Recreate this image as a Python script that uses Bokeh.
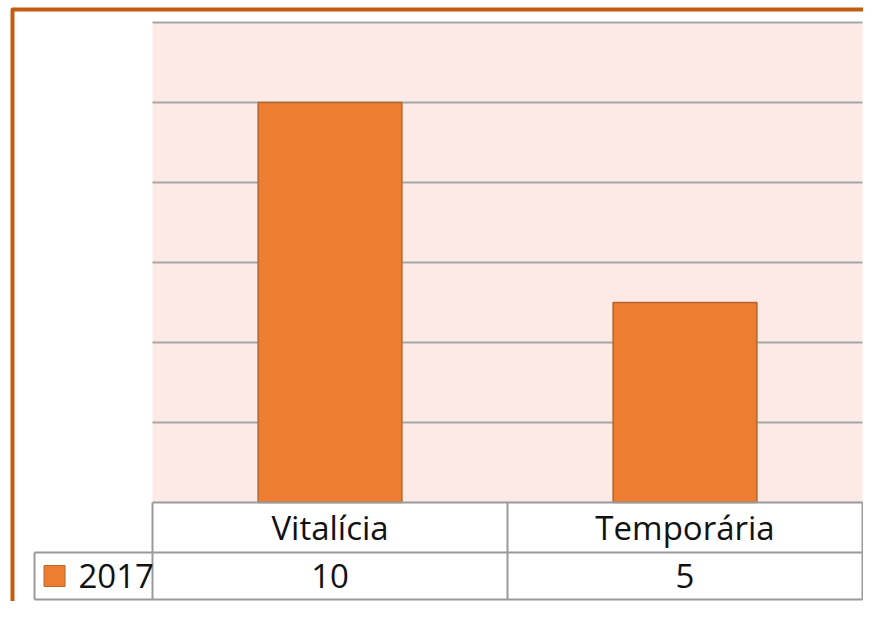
from bokeh.plotting import figure
from bokeh.models import Range1d
from bokeh.core.properties import value
from bokeh.embed import file_html
from bokeh.resources import INLINE

# ---- data ----
categories = ["Vitalícia", "Temporária"]
series_name = "2017"
values = [10, 5]
y_ticks = [2, 4, 6, 8, 10, 12]
y_max = 12

# ---- layout constants (data units) ----
W, H = 863, 601
x_pos = [i + 0.5 for i in range(len(categories))]
x_left, x_right = 0, len(categories)
row1_bottom = -1.25
row2_bottom = -2.425
legend_left = -0.3324

p = figure(width=W, height=H, output_backend="svg", toolbar_location=None,
           x_range=Range1d(-0.4282, 2.0028), y_range=Range1d(-2.475, 12.55),
           min_border=0, outline_line_color=None)
p.axis.visible = False
p.grid.visible = False
p.background_fill_color = "white"
p.border_fill_color = "white"

# plot area background
p.quad(left=[x_left], right=[x_right], bottom=[0], top=[y_max],
       fill_color="#FBEAE6", line_color=None)

# gridlines
p.segment(x0=[x_left] * len(y_ticks), x1=[x_right] * len(y_ticks),
          y0=y_ticks, y1=y_ticks, line_color="#A6A6A6", line_width=2)

# bars
p.vbar(x=x_pos, top=values, bottom=0, width=0.405,
       fill_color="#ED7D31", line_color="#B5652E", line_width=1.5)

# data table lines
grid_col = "#9A9A9A"
p.segment(x0=[x_left, legend_left, legend_left], x1=[x_right, x_right, x_right],
          y0=[0, row1_bottom, row2_bottom], y1=[0, row1_bottom, row2_bottom],
          line_color=grid_col, line_width=2)
vx = [x_left + i for i in range(len(categories) + 1)]
p.segment(x0=vx, x1=vx, y0=[0] * len(vx), y1=[row2_bottom] * len(vx),
          line_color=grid_col, line_width=2)
p.segment(x0=[legend_left], x1=[legend_left], y0=[row1_bottom], y1=[row2_bottom],
          line_color=grid_col, line_width=2)

font = value("Open Sans")
row1_mid = row1_bottom / 2
row2_mid = (row1_bottom + row2_bottom) / 2
p.text(x=x_pos, y=[row1_mid] * len(categories), text=categories,
       text_font=font, text_font_size="33px", text_align="center",
       text_baseline="middle", text_color="#111111")
p.text(x=x_pos, y=[row2_mid] * len(values), text=[str(v) for v in values],
       text_font=font, text_font_size="33px", text_align="center",
       text_baseline="middle", text_color="#111111")

# legend key
p.scatter(x=[-0.276], y=[row2_mid], marker="square", size=21,
          fill_color="#ED7D31", line_color="#B5652E", line_width=1)
p.text(x=[-0.2085], y=[row2_mid], text=[series_name], text_font=font,
       text_font_size="33px", text_align="left", text_baseline="middle",
       text_color="#111111")

# orange chart border (left and top)
p.line(x=[-0.3944, -0.3944, 2.05], y=[-2.6, 12.325, 12.325],
       line_color="#C55A11", line_width=4, line_join="round")

open("out.html", "w").write(file_html(p, INLINE))
